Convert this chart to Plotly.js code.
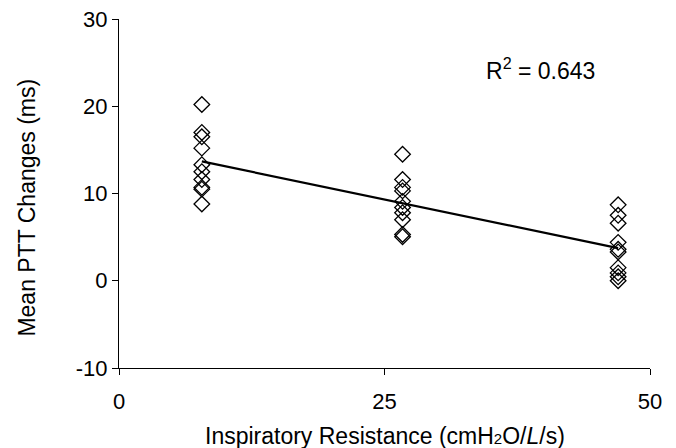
<!DOCTYPE html>
<html>
<head>
<meta charset="utf-8">
<script src="https://cdn.plot.ly/plotly-3.0.1.min.js"></script>
<style>html,body{margin:0;padding:0;background:#fff;}#chart{width:676px;height:448px;}</style>
</head>
<body>
<div id="chart"></div>
<script>
// Data
const resistanceLow = 7.8;
const resistanceMid = 26.7;
const resistanceHigh = 47.0;
const lowValues = [20.2, 17.0, 16.5, 15.2, 13.3, 12.5, 11.6, 10.7, 10.5, 8.8];
const midValues = [14.5, 11.6, 10.7, 10.3, 9.1, 8.4, 7.8, 7.0, 5.3, 5.05];
const highValues = [8.7, 7.5, 6.6, 4.4, 3.6, 3.3, 1.5, 0.9, 0.45, 0.0];
const xTicks = [0, 25, 50];
const yTicks = [-10, 0, 10, 20, 30];
const r2Label = 'R<sup>2</sup> = 0.643';
const yTitle = 'Mean PTT Changes (ms)';
const xTitle = 'Inspiratory Resistance (cmH<span style="font-size:15px">2</span>O/<i>L</i>/s)';

const xs = [], ys = [];
lowValues.forEach(v => { xs.push(resistanceLow); ys.push(v); });
midValues.forEach(v => { xs.push(resistanceMid); ys.push(v); });
highValues.forEach(v => { xs.push(resistanceHigh); ys.push(v); });

// least squares fit
const n = xs.length;
const mx = xs.reduce((a, b) => a + b, 0) / n;
const my = ys.reduce((a, b) => a + b, 0) / n;
let sxy = 0, sxx = 0;
for (let i = 0; i < n; i++) { sxy += (xs[i] - mx) * (ys[i] - my); sxx += (xs[i] - mx) ** 2; }
const slope = sxy / sxx;
const icpt = my - slope * mx;
const fitX = [resistanceLow, resistanceHigh];
const fitY = fitX.map(x => icpt + slope * x);

const font = {family: 'Liberation Sans, Arial, sans-serif', color: '#000'};
const f = s => Object.assign({size: s}, font);

const data = [
  {x: fitX, y: fitY, type: 'scatter', mode: 'lines', line: {color: '#000', width: 2.2}, hoverinfo: 'skip'},
  {x: xs, y: ys, type: 'scatter', mode: 'markers',
   marker: {symbol: 'diamond-open', size: 12, color: '#000', line: {width: 1.3, color: '#000'}}}
];

const layout = {
  width: 676, height: 448,
  margin: {l: 119, r: 26, t: 19, b: 80},
  paper_bgcolor: '#fff', plot_bgcolor: '#fff',
  showlegend: false,
  font: f(22),
  xaxis: {
    range: [0, 50], tickvals: xTicks, ticktext: xTicks.map(String),
    showgrid: false, zeroline: false, showline: true, linecolor: '#000', linewidth: 1,
    ticks: 'outside', ticklen: 6, tickcolor: '#000', tickfont: f(22), ticklabelstandoff: 8
  },
  yaxis: {
    range: [-10, 30], tickvals: yTicks, ticktext: yTicks.map(String),
    showgrid: false, zeroline: false, showline: true, linecolor: '#000', linewidth: 1,
    ticks: 'outside', ticklen: 6, tickcolor: '#000', tickfont: f(22), ticklabelstandoff: 0
  },
  annotations: [
    {x: 39.7, y: 24.3, xref: 'x', yref: 'y', text: r2Label, showarrow: false, font: f(23)},
    {x: -0.173, y: 0.46, xref: 'paper', yref: 'paper', text: yTitle, textangle: -90,
     showarrow: false, font: f(23), xanchor: 'center', yanchor: 'middle'},
    {x: 0.5, y: -0.195, xref: 'paper', yref: 'paper', text: xTitle,
     showarrow: false, font: f(23), xanchor: 'center', yanchor: 'middle'}
  ]
};

Plotly.newPlot('chart', data, layout, {displayModeBar: false, staticPlot: true});
</script>
</body>
</html>
